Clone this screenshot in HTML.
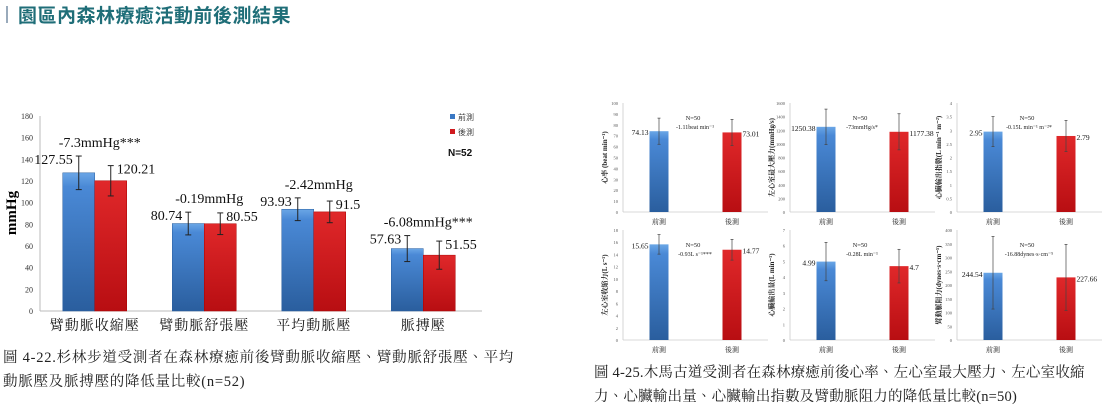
<!DOCTYPE html>
<html><head><meta charset="utf-8">
<style>
html,body{margin:0;padding:0;background:#fff;}
body{width:1113px;height:407px;overflow:hidden;position:relative;font-family:"Liberation Serif","Noto Serif CJK SC",serif;}
#title{position:absolute;left:6px;top:2px;height:24px;display:flex;align-items:center;}
#title .bar{width:2px;height:17px;background:#9ab;margin-right:10px;}
#title span{font-family:"Liberation Sans","Noto Sans CJK TC",sans-serif;font-weight:bold;font-size:19px;color:#1f6e78;letter-spacing:0.5px;}
.cap{position:absolute;font-family:"Liberation Serif","Noto Serif CJK TC",serif;font-size:14.5px;color:#222;line-height:24px;white-space:nowrap;}
svg{position:absolute;left:0;top:0;}
</style></head>
<body>
<div id="title"><div class="bar"></div><span>園區內森林療癒活動前後測結果</span></div>
<div class="cap" style="left:3px;top:346px;letter-spacing:0.75px;">圖 4-22.杉林步道受測者在森林療癒前後臂動脈收縮壓、臂動脈舒張壓、平均<br>動脈壓及脈搏壓的降低量比較(n=52)</div>
<div class="cap" style="left:594px;top:361px;letter-spacing:0.2px;">圖 4-25.木馬古道受測者在森林療癒前後心率、左心室最大壓力、左心室收縮<br>力、心臟輸出量、心臟輸出指數及臂動脈阻力的降低量比較(n=50)</div>
<svg id="chart" width="1113" height="407" xmlns="http://www.w3.org/2000/svg">
<defs>
<linearGradient id="gb" x1="0" y1="0" x2="0" y2="1"><stop offset="0" stop-color="#6aa6e6"/><stop offset="0.1" stop-color="#4a89d6"/><stop offset="1" stop-color="#2a5e9e"/></linearGradient>
<linearGradient id="gr" x1="0" y1="0" x2="0" y2="1"><stop offset="0" stop-color="#e0282a"/><stop offset="1" stop-color="#b80e12"/></linearGradient>
</defs>
</svg>
<script>
// ===== Left chart data =====
const categories = ["臂動脈收縮壓","臂動脈舒張壓","平均動脈壓","脈搏壓"];
const preValues = [127.55, 80.74, 93.93, 57.63];
const postValues = [120.21, 80.55, 91.5, 51.55];
const preSD = [15.5, 10.5, 10.5, 12];
const postSD = [14, 10, 10, 13];
const preLabels = ["127.55","80.74","93.93","57.63"];
const postLabels = ["120.21","80.55","91.5","51.55"];
const diffLabels = ["-7.3mmHg***","-0.19mmHg","-2.42mmHg","-6.08mmHg***"];
const yTicks = [0,20,40,60,80,100,120,140,160,180];

// ===== Right panels data =====
const panelLabels = ["前測","後測"];
const panelPre = [74.13, 1250.38, 2.95, 15.65, 4.99, 244.54];
const panelPost = [73.01, 1177.38, 2.79, 14.77, 4.7, 227.66];
const panelPreSD = [12, 260, 0.55, 1.6, 1.22, 132];
const panelPostSD = [12, 265, 0.57, 1.7, 1.07, 120];
const panelPreText = ["74.13","1250.38","2.95","15.65","4.99","244.54"];
const panelPostText = ["73.01","1177.38","2.79","14.77","4.7","227.66"];
const panelMax = [100, 1600, 4, 18, 7, 400];
const panelStep = [10, 200, 0.5, 2, 1, 50];
const panelTitles = ["心率 (beat min⁻¹)","左心室最大壓力(mmHg/s)","心臟輸出指數(L min⁻¹ m⁻²)","左心室收縮力(L s⁻¹)","心臟輸出量(L min⁻¹)","臂動脈阻力(dynes·s·cm⁻⁵)"];
const panelNote1 = ["N=50","N=50","N=50","N=50","N=50","N=50"];
const panelNote2 = ["-1.11beat min⁻¹","-73mmHg/s*","-0.15L min⁻¹ m⁻²*","-0.93L s⁻¹***","-0.28L min⁻¹","-16.88dynes·s·cm⁻⁵"];

const svg = document.getElementById('chart');
const NS = 'http://www.w3.org/2000/svg';
function mk(tag, attrs, parent){const e=document.createElementNS(NS,tag);for(const k in attrs)e.setAttribute(k,attrs[k]);(parent||svg).appendChild(e);return e;}
function txt(s, attrs, parent){const e=mk('text',attrs,parent);e.textContent=s;return e;}

// ---- Left chart ----
const L = {x0:40, x1:482, y0:311, y1:116, max:180};
const yL = v => L.y0 - (v/L.max)*(L.y0-L.y1);
const catW = (L.x1-L.x0-4)/categories.length;
const cx = i => L.x0 + catW*(i+0.5);
const gL = mk('g',{});


const yAxis = mk('line',{x1:L.x0,y1:L.y1,x2:L.x0,y2:L.y0,stroke:'#bbb','stroke-width':1},gL);
 
const xAxis = mk('line',{x1:L.x0,y1:L.y0,x2:L.x1,y2:L.y0,stroke:'#bbb','stroke-width':1},gL);
 
yTicks.forEach(t=>{
  const e=txt(String(t),{x:L.x0-7,y:yL(t)+3,'font-size':8,'text-anchor':'end',fill:'#333'},gL);
   
});
const yt = txt('mmHg',{x:0,y:0,'font-size':15,'font-weight':'bold','text-anchor':'middle',fill:'#000',transform:'translate(16,213) rotate(-90)'},gL);
 
const BW = 32;
function errBar(x, top, bot, g){
  mk('line',{x1:x,y1:top,x2:x,y2:bot,stroke:'#222','stroke-width':1},g);
  mk('line',{x1:x-3,y1:top,x2:x+3,y2:top,stroke:'#222','stroke-width':1},g);
  mk('line',{x1:x-3,y1:bot,x2:x+3,y2:bot,stroke:'#222','stroke-width':1},g);
}
categories.forEach((c,i)=>{
  const c0 = cx(i);
  const bx = c0-BW, rx = c0;
  const b = mk('rect',{x:bx,y:yL(preValues[i]),width:BW,height:L.y0-yL(preValues[i]),fill:'url(#gb)',stroke:'#2a5e9e','stroke-width':0.5},gL);
   
  const r = mk('rect',{x:rx,y:yL(postValues[i]),width:BW,height:L.y0-yL(postValues[i]),fill:'url(#gr)',stroke:'#a00','stroke-width':0.5},gL);
   
  const bxC = bx+BW/2, rxC = rx+BW/2;
  const pt = yL(preValues[i]+preSD[i]), pb = yL(preValues[i]-preSD[i]);
  const qt = yL(postValues[i]+postSD[i]), qb = yL(postValues[i]-postSD[i]);
  errBar(bxC,pt,pb,gL); errBar(rxC,qt,qb,gL);
  const l1 = txt(preLabels[i],{x:bxC-6,y:pt+8,'font-size':14,'text-anchor':'end',fill:'#111'},gL);
   
  const l2 = txt(postLabels[i],{x:rxC+6,y:qt+8,'font-size':14,'text-anchor':'start',fill:'#111'},gL);
   
  const d = txt(diffLabels[i],{x:c0+5,y:Math.min(pt,qt)-9,'font-size':14,'text-anchor':'middle',fill:'#111'},gL);
   
  const cl = txt(c,{x:c0,y:330,'font-size':14,'text-anchor':'middle',fill:'#111','letter-spacing':'1','font-family':'"Liberation Serif","Noto Serif CJK TC",serif'},gL);
   
});
// legend
const lg = mk('g',{},gL);
 
mk('rect',{x:450,y:114,width:5,height:5,fill:'#3a78c4'},lg);
txt('前測',{x:458,y:120,'font-size':8,fill:'#444','font-family':'"Noto Sans CJK TC",sans-serif'},lg);
mk('rect',{x:450,y:129,width:5,height:5,fill:'#d01a1e'},lg);
txt('後測',{x:458,y:135,'font-size':8,fill:'#444','font-family':'"Noto Sans CJK TC",sans-serif'},lg);
const nl = txt('N=52',{x:448,y:156,'font-size':10,'font-weight':'bold',fill:'#111','font-family':'"Liberation Sans",sans-serif'},gL);
 

// ---- Right panels ----
const colX = [623, 790, 957];
const rows = [{top:103, zero:212, lab:224}, {top:230, zero:340, lab:352}];
const PW = 145;
for(let p=0;p<6;p++){
  const ax = colX[p%3], row = rows[Math.floor(p/3)];
  const g = mk('g',{});
  
  
  const yP = v => row.zero - (v/panelMax[p])*(row.zero-row.top);
  mk('line',{x1:ax,y1:row.top,x2:ax,y2:row.zero,stroke:'#ccc','stroke-width':0.8},g);
  mk('line',{x1:ax,y1:row.zero,x2:ax+PW,y2:row.zero,stroke:'#ccc','stroke-width':0.8},g);
  const n = Math.round(panelMax[p]/panelStep[p]);
  for(let k=0;k<=n;k++){
    const v = k*panelStep[p];
    const e = txt(String(+v.toFixed(1)),{x:ax-5,y:yP(v)+2,'font-size':4.5,'text-anchor':'end',fill:'#555'},g);
     
  }
  const t = txt(panelTitles[p],{x:0,y:0,'font-size':7,'font-weight':'bold','text-anchor':'middle',fill:'#222',transform:`translate(${ax-16},${(row.top+row.zero)/2}) rotate(-90)`,'font-family':'"Liberation Serif","Noto Serif CJK TC",serif'},g);
   
  const vals=[panelPre[p],panelPost[p]], sds=[panelPreSD[p],panelPostSD[p]], tx=[panelPreText[p],panelPostText[p]];
  const cent=[ax+36, ax+109];
  for(let j=0;j<2;j++){
    const bw=19, x=cent[j]-bw/2;
    const r = mk('rect',{x:x,y:yP(vals[j]),width:bw,height:row.zero-yP(vals[j]),fill:j?'url(#gr)':'url(#gb)'},g);
     
    const top=yP(vals[j]+sds[j]), bot=yP(vals[j]-sds[j]);
    mk('line',{x1:cent[j],y1:top,x2:cent[j],y2:bot,stroke:'#444','stroke-width':0.7},g);
    mk('line',{x1:cent[j]-1.5,y1:top,x2:cent[j]+1.5,y2:top,stroke:'#444','stroke-width':0.7},g);
    mk('line',{x1:cent[j]-1.5,y1:bot,x2:cent[j]+1.5,y2:bot,stroke:'#444','stroke-width':0.7},g);
    const vl = txt(tx[j],{x:j?x+bw+1:x-1,y:yP(vals[j])+4,'font-size':7.5,'text-anchor':j?'start':'end',fill:'#111'},g);
     
    const cl = txt(panelLabels[j],{x:cent[j],y:row.lab,'font-size':7,'text-anchor':'middle',fill:'#222','font-family':'"Liberation Serif","Noto Serif CJK TC",serif'},g);
     
  }
  const n1 = txt(panelNote1[p],{x:ax+70,y:row.top+17,'font-size':6.5,'text-anchor':'middle',fill:'#222'},g);
   
  const n2 = txt(panelNote2[p],{x:ax+72,y:row.top+26,'font-size':6,'text-anchor':'middle',fill:'#222'},g);
   
}
</script>
</body></html>
